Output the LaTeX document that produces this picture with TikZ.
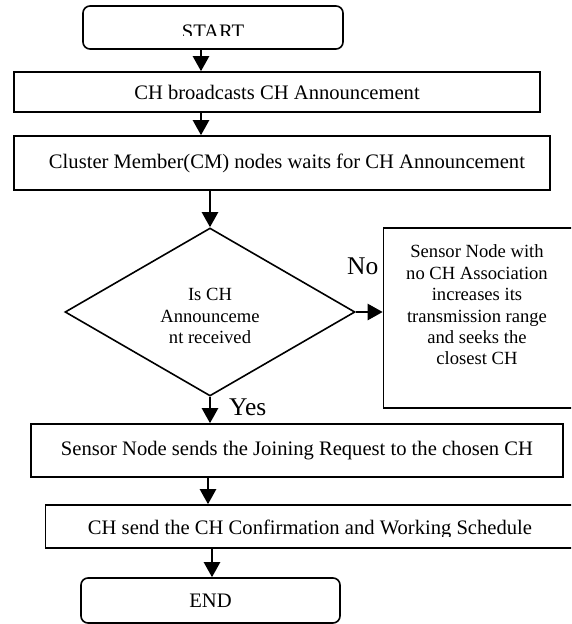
\documentclass[tikz,border=0pt]{standalone}
\usepackage{fontspec}
\setmainfont{Liberation Serif}
\usetikzlibrary{arrows.meta,shapes.geometric}
\begin{document}
\begin{tikzpicture}[x=1pt,y=-1pt,
  box/.style={draw,line width=1.6pt,rectangle,inner sep=0pt,font=\fontsize{20.6}{24}\selectfont},
  term/.style={box,rounded corners=7pt},
  arr/.style={line width=2.4pt,-{Triangle[width=16pt,length=15pt]}},
  small/.style={font=\fontsize{18.6}{21.4}\selectfont,align=center,inner sep=0pt},
  lbl/.style={font=\fontsize{25.5}{28}\selectfont,inner sep=0pt}]
\clip (0,0) rectangle (571,624);
\useasboundingbox (0,0) rectangle (571,624);
% nodes
\node[term,minimum width=260pt,minimum height=43pt] (start) at (213,27.5) {};
\begin{scope}
  \clip (83,6) rectangle (343,35);
  \node[font=\fontsize{20.6}{24}\selectfont,anchor=base,inner sep=0pt] (starttxt) at (213,38.8) {START};
\end{scope}
\node[box,minimum width=526pt,minimum height=40pt] (b1) at (277,92) {CH broadcasts CH Announcement};
\node[box,minimum width=536pt,minimum height=54pt] (b2) at (282,163) {\hspace*{10pt}Cluster Member(CM) nodes waits for CH Announcement};
\node[draw,line width=1.6pt,diamond,minimum width=290pt,minimum height=168pt,inner sep=0pt] (dia) at (210,312) {};
\node[small] (diatxt) at (210,316) {Is CH\\Announceme\\nt received};
\node[draw,line width=1.6pt,rectangle,minimum width=216pt,minimum height=180pt,inner sep=0pt] (side) at (491.5,318) {};
\node[small] (sidetxt) at (477,305) {Sensor Node with\\no CH Association\\increases its\\transmission range\\and seeks the\\closest CH};
\node[box,minimum width=532pt,minimum height=53pt] (b3) at (297,450.5) {Sensor Node sends the Joining Request to the chosen CH};
\node[box,minimum width=556pt,minimum height=43pt] (b4) at (323.5,526.5) {};
\begin{scope}
  \clip (46,506) rectangle (571,536.5);
  \node[font=\fontsize{20.6}{24}\selectfont,anchor=base,inner sep=0pt] (b4txt) at (310,534) {CH send the CH Confirmation and Working Schedule};
\end{scope}
\node[term,minimum width=259pt,minimum height=45pt] (end) at (210.5,600.5) {END};
\node[lbl,anchor=base west] (no) at (347,274) {No};
\node[lbl,anchor=base west] (yes) at (229,415) {Yes};
% connector columns
\coordinate (c1) at (201,0);
\coordinate (c4) at (208,0);
\coordinate (c5) at (212,0);
% connectors
\draw[arr] (start.south -| c1) -- (b1.north -| c1);
\draw[arr] (b1.south -| c1) -- (b2.north -| c1);
\draw[arr] (b2.south -| dia.north) -- (dia.north);
\draw[arr] (dia.east) -- (dia.east -| side.west);
\draw[arr] (dia.south) -- (b3.north -| dia.south);
\draw[arr] (b3.south -| c4) -- (b4.north -| c4);
\draw[arr] (b4.south -| c5) -- (end.north -| c5);
\end{tikzpicture}
\end{document}
